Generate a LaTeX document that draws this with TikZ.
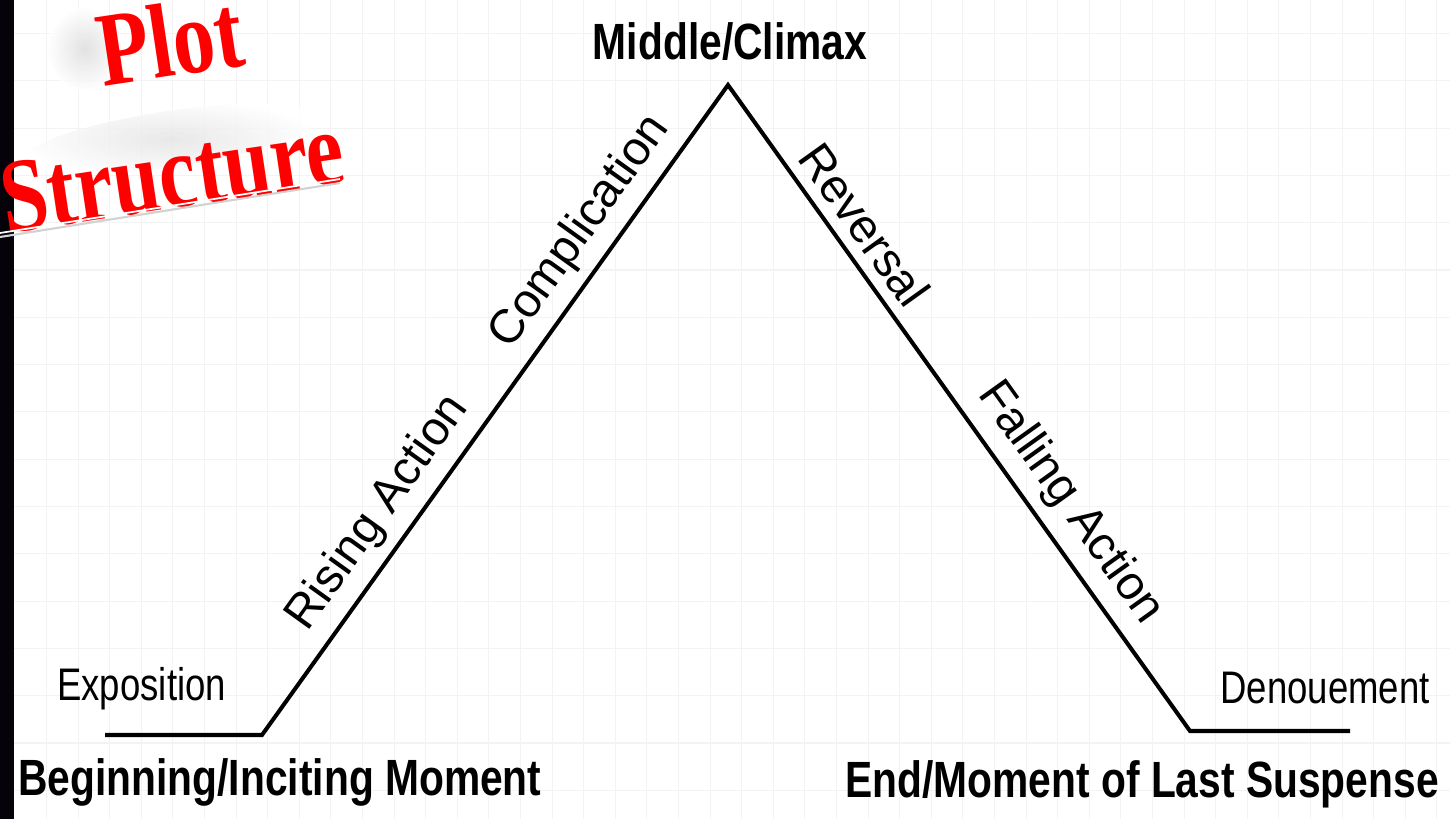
\documentclass[tikz,border=0pt]{standalone}
\usepackage{fontspec}
\setmainfont{Liberation Sans}
\newfontfamily\narrowsans[FakeStretch=0.8]{Liberation Sans}
\newfontfamily\titleserif[FakeStretch=0.8]{Liberation Serif}
\definecolor{titlered}{RGB}{255,0,0}
\definecolor{gridgray}{RGB}{243,243,243}
\definecolor{stripblack}{RGB}{5,2,10}
\begin{document}
\begin{tikzpicture}[x=0.02cm,y=0.02cm,
  plotline/.style={line width=2.3pt, line join=miter},
  stage/.style={font=\narrowsans\bfseries\fontsize{29}{32}\selectfont, inner sep=0pt},
  part/.style={font=\narrowsans\fontsize{26}{30}\selectfont, inner sep=0pt},
  slopelbl/.style={font=\fontsize{27}{30}\selectfont, sloped, above, inner sep=6pt},
  titletext/.style={font=\titleserif\bfseries\fontsize{60}{64}\selectfont, text=titlered, rotate=8.5, inner sep=0pt}]
\useasboundingbox (0,0) rectangle (1450,819);
\fill[white] (0,0) rectangle (1450,819);
% faint grid
\foreach \gx in {0,...,44} \draw[gridgray, line width=0.6pt] (46.5+31.6*\gx,0) -- ++(0,819);
\foreach \gy in {0,...,16} \draw[gridgray, line width=0.6pt] (0,785.5-47.3*\gy) -- ++(1450,0);
\fill[stripblack] (0,0) rectangle (14,819);
% the plot line
\coordinate (expo) at (105,84);
\coordinate (incite) at (262,84);
\coordinate (climax) at (728,734);
\coordinate (suspense) at (1190,88);
\coordinate (denoue) at (1350,88);
\draw[plotline] (expo) -- (incite)
  -- node[slopelbl, pos=0.31] (rising) {Rising Action}
     node[slopelbl, pos=0.743] (complic) {Complication} (climax)
  -- node[slopelbl, pos=0.243] (reversal) {Reversal}
     node[slopelbl, pos=0.679] (falling) {Falling Action} (suspense)
  -- (denoue);
% stage labels
\node[stage, anchor=base] (middle) at (730,759) {Middle/Climax};
\node[stage, anchor=base west] (begin) at (18,24) {Beginning/Inciting Moment};
\node[stage, anchor=base west] (end) at (845,22) {End/Moment of Last Suspense};
\node[part, anchor=base west] (exposition) at (57,119) {Exposition};
\node[part, anchor=base west] (denouement) at (1220,116) {Denouement};
% title with soft shadow
\shade[inner color=gray!28, outer color=white, opacity=0.8] (85,770) ellipse (38 and 42);
\shade[inner color=gray!22, outer color=white, opacity=0.8, rotate around={8.5:(170,680)}] (170,680) ellipse (150 and 28);
\node[titletext] (plot) at (170,779) {Plot};
\node[titletext] (structure) at (172,645) {Structure};
\draw[gray!35, line width=1.2pt] (0,582) -- (340,636);
\draw[white, line width=1pt] (0,586) -- (340,640);
\end{tikzpicture}
\end{document}
